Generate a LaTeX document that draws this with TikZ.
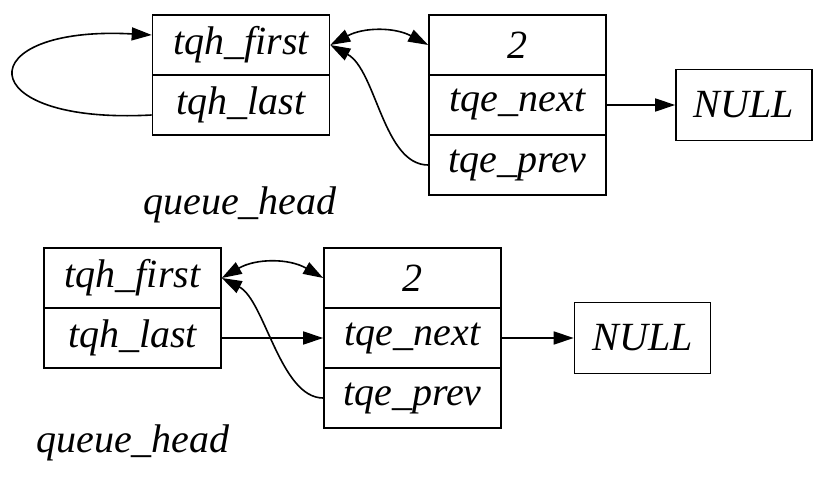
\documentclass[tikz,border=0pt]{standalone}
\usepackage{fontspec}
\setmainfont{Liberation Serif}
\usetikzlibrary{arrows.meta}

\begin{document}
\begin{tikzpicture}[x=0.5pt, y=-0.5pt,
  every node/.style={font=\fontsize{20}{24}\selectfont\itshape},
  cell/.style={draw, line width=0.8pt, minimum width=88.5pt, minimum height=30pt, inner sep=0pt},
  nullbox/.style={draw, line width=0.8pt, minimum width=68pt, minimum height=35.5pt, inner sep=0pt},
  ptr/.style={line width=0.8pt, -{Triangle[length=10pt, width=6.5pt]}},
  biptr/.style={line width=0.8pt, {Triangle[length=10pt, width=6.5pt]}-{Triangle[length=10pt, width=6.5pt]}}]
\useasboundingbox (0,0) rectangle (824,486);
% top: empty head pointing to itself, one element
\node[cell] (hfirst1) at (241,45) {tqh\_first};
\node[cell] (hlast1) at (241,105) {tqh\_last};
\node[cell] (val1) at (517.5,45) {2};
\node[cell] (next1) at (517.5,105) {tqe\_next};
\node[cell] (prev1) at (517.5,165) {tqe\_prev};
\node[nullbox] (null1) at (744,105) {NULL};
\node (head1) at (240,205) {queue\_head};
\draw[ptr] ([yshift=-5pt]hlast1.west) .. controls +(-183,10) and +(-183,-10) .. ([yshift=5pt]hfirst1.west);
\draw[biptr] (hfirst1.east) to[bend left=28] (val1.west);
\draw[ptr] (prev1.west) .. controls +(-45,0) and +(46,25) .. (hfirst1.east);
\draw[ptr] (next1.east) -- (null1.west);
% bottom: head after the insert
\node[cell] (hfirst2) at (132.5,278) {tqh\_first};
\node[cell] (hlast2) at (132.5,338) {tqh\_last};
\node[cell] (val2) at (412.5,278) {2};
\node[cell] (next2) at (412.5,338) {tqe\_next};
\node[cell] (prev2) at (412.5,398) {tqe\_prev};
\node[nullbox] (null2) at (642.5,338) {NULL};
\node (head2) at (133,443) {queue\_head};
\draw[biptr] (hfirst2.east) to[bend left=30] (val2.west);
\draw[ptr] (hlast2.east) -- (next2.west);
\draw[ptr] (prev2.west) .. controls +(-43,0) and +(43,22) .. (hfirst2.east);
\draw[ptr] (next2.east) -- (null2.west);
\end{tikzpicture}
\end{document}
